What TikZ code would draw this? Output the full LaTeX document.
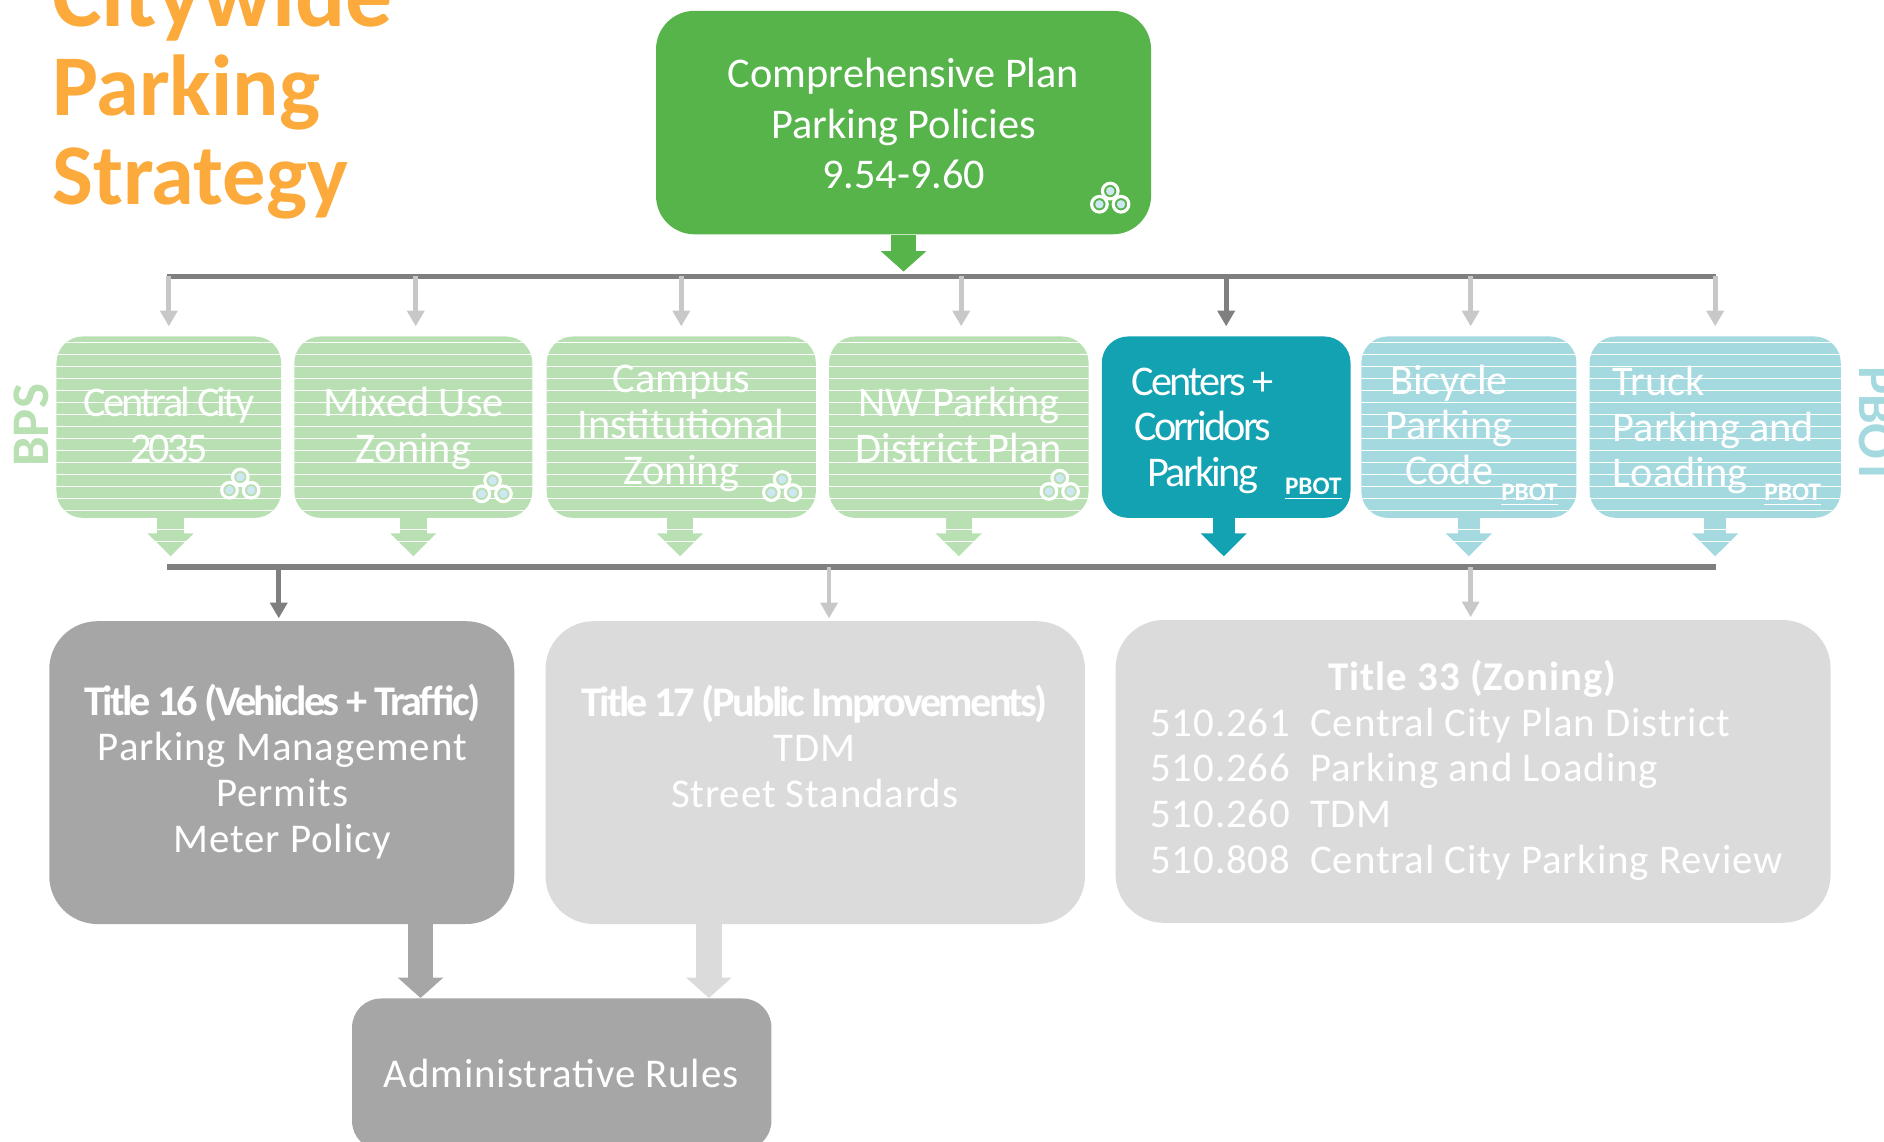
\documentclass[tikz,border=0pt]{standalone}
\usepackage{fontspec}
\setmainfont{Carlito}
\newfontfamily\condfont[LetterSpace=-6.5]{Carlito}
\newfontfamily\widefont[LetterSpace=2.2]{Carlito}
\usetikzlibrary{calc,arrows.meta,positioning}
\definecolor{plangreen}{HTML}{57B44B}
\definecolor{fadegreen}{HTML}{B8E0B3}
\definecolor{pbotteal}{HTML}{12A2B2}
\definecolor{fadeteal}{HTML}{A3D9DF}
\definecolor{codegrey}{HTML}{A6A6A6}
\definecolor{fadegrey}{HTML}{DBDBDB}
\definecolor{busgrey}{HTML}{7F7F7F}
\definecolor{thingrey}{HTML}{C8C8C8}
\definecolor{titleorange}{HTML}{FBAA3B}
\definecolor{ringdot}{HTML}{CDE8F2}
\tikzset{stripes/.style={path picture={\foreach \y in {5,15,...,155} \draw[white,line width=.4pt] ($(path picture bounding box.north west)+(0,\y)$) -- +(300,0);}},
textdrop/.style={execute at begin node={\rule[-6pt]{0pt}{#1}}},
box/.style={shape=rectangle,rounded corners=11pt,inner sep=0pt,text=white,align=center,font=\fontsize{17.6}{19}\selectfont,textdrop=41.3pt},
policybox/.style={box,minimum height=75.5pt,fill=fadegreen,stripes},
pbotbox/.style={box,minimum height=75.5pt,fill=fadeteal,stripes},
codebox/.style={box,rounded corners=20pt,minimum height=126pt},
busline/.style={line width=2.2pt,busgrey},
thinarrow/.style={line width=2pt,-{Triangle[length=6.5pt,width=7pt]},shorten >=4pt},
fatarrow/.style={line width=11pt,-{Triangle[length=9.5pt,width=18.5pt]},shorten >=4.5pt},
bigarrow/.style={line width=10.5pt,-{Triangle[length=8.5pt,width=18.5pt]}},
pbotmark/.style={font=\fontsize{10.5}{10.5}\selectfont\bfseries,text=white,inner sep=0pt},
sidelabel/.style={font=\fontsize{22}{22}\selectfont\bfseries,inner sep=0pt}}
\tikzset{ringicon/.pic={\foreach \a/\b in {0/-8,-9/3,9/3} \draw[white,line width=1.3pt,fill=#1] (\a,\b) circle (6.5);
\foreach \a/\b in {0/-8,-9/3,9/3} \fill[ringdot] (\a,\b) circle (3.5);},ringicon/.default={black!10}}

\begin{document}
\begin{tikzpicture}[x=.5pt,y=-.5pt]
\useasboundingbox (0,0) rectangle (1568,950);

% Title
\node[anchor=west,align=left,inner sep=0pt,text=titleorange,font=\fontsize{36}{37}\selectfont\bfseries] (title) at (43,75) {{\fontsize{39}{37}\selectfont Citywide}\\Parking\\Strategy};

% Plan box
\node[box,rounded corners=16pt,fill=plangreen,minimum width=206pt,minimum height=93pt,font=\fontsize{17.6}{21}\selectfont,textdrop=67pt] (plan) at (752,102) {Comprehensive Plan\\Parking Policies\\9.54-9.60};
\pic at (924,167) {ringicon=plangreen};

% Buses
\coordinate (busTopL) at (139,230);
\coordinate (busTopR) at (1428,230);
\coordinate (busLowL) at (139,472);
\coordinate (busLowR) at (1428,472);

% Project boxes
\node[policybox,minimum width=93.5pt] (central) at (140.5,355.5) {\condfont Central City\\\condfont 2035};
\node[policybox,minimum width=99pt] (mixed) at (344,355.5) {Mixed Use\\Zoning};
\node[policybox,textdrop=59.5pt,minimum width=112pt] (campus) at (567,355.5) {Campus\\Institutional\\Zoning};
\node[policybox,minimum width=108pt] (nw) at (798,355.5) {NW Parking\\District Plan};
\node[box,minimum height=75.5pt,fill=pbotteal,minimum width=103.5pt] (centers) at (1020.5,355.5) {};
\node[pbotbox,minimum width=89.5pt] (bicycle) at (1222.5,355.5) {};
\node[pbotbox,minimum width=104.5pt] (truck) at (1427.5,355.5) {};

% Text of the PBOT boxes
\node[text=white,align=center,inner sep=0pt,font=\fontsize{17.6}{19}\selectfont\condfont] (centersText) at (1001,358.5) {Centers +\\Corridors\\Parking};
\node[text=white,align=center,inner sep=0pt,font=\fontsize{17.6}{18.7}\selectfont] (bicycleText) at (1206,353.5) {Bicycle\\Parking\\Code};
\node[text=white,align=left,inner sep=0pt,font=\fontsize{17.6}{19}\selectfont,anchor=west] (truckText) at (1342,358) {Truck\\Parking and\\Loading};

% Agency marks
\pic at (200,405) {ringicon=fadegreen};
\pic at (410,408) {ringicon=fadegreen};
\pic at (651,407) {ringicon=fadegreen};
\pic at (882,406) {ringicon=fadegreen};
\node[pbotmark] (markC) at (1093,407) {\underline{PBOT}};
\node[pbotmark] (markB) at (1273,412) {\underline{PBOT}};
\node[pbotmark] (markT) at (1492,412) {\underline{PBOT}};
\node[sidelabel,text=fadegreen,rotate=90] (bps) at (26,354) {BPS};
\node[sidelabel,text=fadeteal,rotate=-90] (pbot) at (1562,354) {PBOT};

% Code boxes
\node[codebox,fill=codegrey,minimum width=193.5pt] (title16) at (234.5,643) {};
\node[codebox,fill=fadegrey,minimum width=224.5pt] (title17) at (678.5,643) {};
\node[codebox,fill=fadegrey,minimum width=297.5pt] (title33) at (1226,642) {};
\node[box,fill=codegrey,rounded corners=12pt,minimum width=174.5pt,minimum height=63pt] (admin) at (467.5,894) {};
\node[text=white,inner sep=0pt,font=\fontsize{17}{21}\selectfont\widefont] (adminText) at (467,893) {Administrative Rules};

% Code text
\node[text=white,align=center,inner sep=0pt,font=\fontsize{17}{19}\selectfont\widefont] (title16Text) at (235,642) {{\fontsize{17.6}{19}\selectfont\bfseries\condfont Title 16 (Vehicles + Traffic)}\\Parking Management\\Permits\\Meter Policy};
\node[text=white,align=center,inner sep=0pt,font=\fontsize{17}{19}\selectfont\widefont] (title17Text) at (678,621) {{\fontsize{17.6}{19}\selectfont\bfseries\condfont Title 17 (Public Improvements)}\\TDM\\Street Standards};
\node[text=white,align=left,inner sep=0pt,font=\fontsize{17}{19}\selectfont\widefont,anchor=north west] (title33Text) at (957,549) {\makebox[268pt][c]{\bfseries Title 33 (Zoning)}\\
\makebox[66.5pt][l]{510.261}Central City Plan District\\
\makebox[66.5pt][l]{510.266}Parking and Loading\\
\makebox[66.5pt][l]{510.260}TDM\\
\makebox[66.5pt][l]{510.808}Central City Parking Review};

% Bus lines
\draw[busline] (busTopL) -- (busTopR);
\draw[busline] (busLowL) -- (busLowR);

% Arrows from the buses
\draw[bigarrow,plangreen,shorten >=2pt] (plan.south) -- (plan.south |- busTopL);
\foreach \b/\d in {central/0,mixed/1,campus/0,nw/1,bicycle/.75,truck/0} \draw[thinarrow,thingrey] ([xshift=\d pt]\b.north |- busTopL) -- ([xshift=\d pt]\b.north);
\draw[thinarrow,busgrey] (centers.north |- busTopL) -- (centers.north);
\foreach \b/\d in {central/.75,mixed/0,campus/-.5,nw/0} \draw[fatarrow,fadegreen] ([xshift=\d pt]\b.south) -- ([xshift=\d pt]\b.south |- busLowL);
\foreach \b in {bicycle,truck} \draw[fatarrow,fadeteal,line width=9pt] (\b.south) -- (\b.south |- busLowL);
\draw[fatarrow,pbotteal,line width=9pt] ([xshift=-1pt]centers.south) -- ([xshift=-1pt]centers.south |- busLowL);
\foreach \y in {441,451} {\draw[white,line width=.4pt] (120,\y) -- (990,\y); \draw[white,line width=.4pt] (1190,\y) -- (1460,\y);}
\coordinate (t16in) at (232,472);
\coordinate (t17in) at (690,472);
\coordinate (t33in) at (1224,472);
\draw[thinarrow,busgrey,shorten >=1pt] (t16in) -- (t16in |- title16.north);
\draw[thinarrow,thingrey,shorten >=1pt] (t17in) -- (t17in |- title17.north);
\draw[thinarrow,thingrey,shorten >=1pt] (t33in) -- (t33in |- title33.north);

% Arrows into the rules box
\coordinate (rule16) at (350,769);
\coordinate (rule17) at (590,769);
\draw[bigarrow,codegrey] (rule16) -- (rule16 |- admin.north);
\draw[bigarrow,fadegrey] (rule17) -- (rule17 |- admin.north);

\end{tikzpicture}
\end{document}
